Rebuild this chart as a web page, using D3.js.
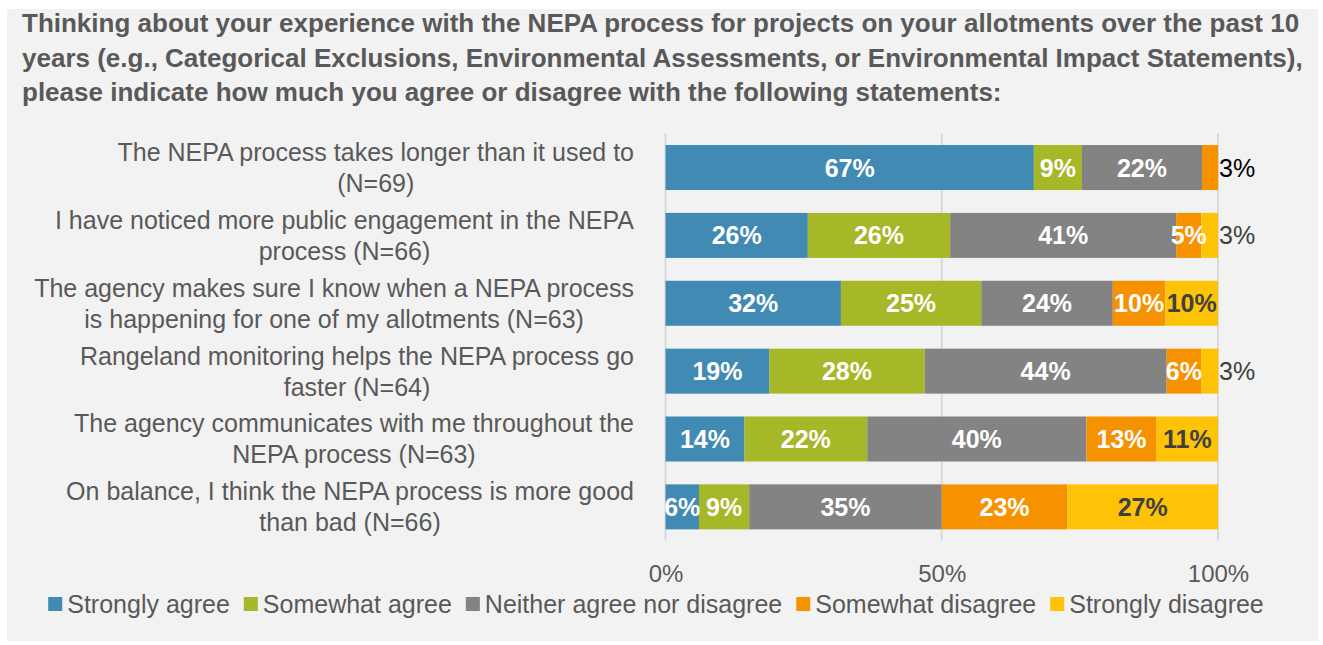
<!DOCTYPE html>
<html>
<head>
<meta charset="utf-8">
<script src="https://cdn.jsdelivr.net/npm/d3@7"></script>
<style>
  html, body { margin: 0; padding: 0; background: #ffffff; }
  svg { display: block; font-family: "Liberation Sans", Arial, sans-serif; }
</style>
</head>
<body>
<div id="chart"></div>
<script>
// chart data
const titleLines = [
  'Thinking about your experience with the NEPA process for projects on your allotments over the past 10',
  'years (e.g., Categorical Exclusions, Environmental Assessments, or Environmental Impact Statements),',
  'please indicate how much you agree or disagree with the following statements:'
];
const categories = [
  ['The NEPA process takes longer than it used to', '(N=69)'],
  ['I have noticed more public engagement in the NEPA', 'process (N=66)'],
  ['The agency makes sure I know when a NEPA process', 'is happening for one of my allotments (N=63)'],
  ['Rangeland monitoring helps the NEPA process go', 'faster (N=64)'],
  ['The agency communicates with me throughout the', 'NEPA process (N=63)'],
  ['On balance, I think the NEPA process is more good', 'than bad (N=66)']
];
const seriesNames = ['Strongly agree', 'Somewhat agree', 'Neither agree nor disagree', 'Somewhat disagree', 'Strongly disagree'];
const seriesColors = ['#418AB3', '#A6B727', '#838383', '#F69200', '#FEC306'];
// percentages per statement, in category order
const stronglyAgree    = [66.67, 25.76, 31.75, 18.8, 14.29, 6.06];
const somewhatAgree    = [8.7, 25.76, 25.4, 28.1, 22.22, 9.09];
const neither          = [21.74, 40.91, 23.81, 43.8, 39.68, 34.85];
const somewhatDisagree = [2.9, 4.55, 9.52, 6.25, 12.7, 22.73];
const stronglyDisagree = [0, 3.03, 9.52, 3.1, 11.11, 27.27];
const xTicks = [0, 0.5, 1];

const W = 1323, H = 645;
const margin = { top: 133.6, right: 105, bottom: 104, left: 665.5 };
const width = 1218 - margin.left;
const height = 540.8 - margin.top;

const svg = d3.select('#chart').append('svg')
  .attr('width', W)
  .attr('height', H);

// panel background
svg.append('rect')
  .attr('x', 7).attr('y', 9)
  .attr('width', 1311).attr('height', 632)
  .attr('fill', '#f2f2f2');

// title
svg.append('g').selectAll('text')
  .data(titleLines)
  .join('text')
  .attr('x', 22)
  .attr('y', (d, i) => 32 + i * 34.5)
  .attr('fill', '#595959')
  .attr('font-size', 26)
  .attr('font-weight', 'bold')
  .text(d => d);

const g = svg.append('g').attr('transform', `translate(${margin.left},${margin.top})`);

const x = d3.scaleLinear().domain([0, 1]).range([0, width]);
const y = d3.scaleBand()
  .domain(d3.range(categories.length))
  .range([0, height])
  .paddingInner(0.337)
  .paddingOuter(0.1685);

// gridlines
g.append('g').selectAll('line')
  .data(xTicks)
  .join('line')
  .attr('x1', d => x(d)).attr('x2', d => x(d))
  .attr('y1', 0).attr('y2', height)
  .attr('stroke', '#d9d9d9')
  .attr('stroke-width', 2);

// x axis labels
const xAxis = d3.axisBottom(x).tickValues(xTicks).tickFormat(d3.format('.0%')).tickSize(0).tickPadding(24);
const ax = g.append('g').attr('transform', `translate(0,${height})`).call(xAxis);
ax.select('.domain').remove();
ax.selectAll('text').attr('font-size', 24).attr('fill', '#595959').attr('font-family', null);

// stack the series
const seriesValues = [stronglyAgree, somewhatAgree, neither, somewhatDisagree, stronglyDisagree];
const rows = categories.map((c, i) => {
  const r = { idx: i };
  seriesValues.forEach((s, k) => { r[k] = s[i] / 100; });
  return r;
});
const stack = d3.stack().keys(d3.range(seriesNames.length));
const stacked = stack(rows);

const layers = g.append('g').selectAll('g')
  .data(stacked)
  .join('g')
  .attr('fill', (d, k) => seriesColors[k]);

layers.selectAll('rect')
  .data(d => d)
  .join('rect')
  .attr('x', d => x(d[0]))
  .attr('y', d => y(d.data.idx))
  .attr('width', d => x(d[1]) - x(d[0]))
  .attr('height', y.bandwidth());

// value labels
const fmt = v => Math.round(v * 100) + '%';
stacked.forEach((layer, k) => {
  layer.forEach(d => {
    const v = d[1] - d[0];
    if (v <= 0) return;
    const outside = v < 0.04;
    g.append('text')
      .attr('x', outside ? width + 1 : x((d[0] + d[1]) / 2))
      .attr('y', y(d.data.idx) + y.bandwidth() / 2 + 9)
      .attr('text-anchor', outside ? 'start' : 'middle')
      .attr('font-size', 25)
      .attr('font-weight', outside ? 'normal' : 'bold')
      .attr('fill', outside ? (k === 4 ? '#404040' : '#000000') : (k === 4 ? '#404040' : '#ffffff'))
      .text(fmt(v));
  });
});

// category labels, two centred lines, block right-aligned
const labelRight = 634 - margin.left;
categories.forEach((lines, i) => {
  const t = g.append('text')
    .attr('font-size', 25)
    .attr('fill', '#595959')
    .attr('text-anchor', 'middle');
  const cy = y(i) + y.bandwidth() / 2;
  const spans = lines.map((l, j) => t.append('tspan').attr('y', cy - 6.5 + j * 31).text(l));
  const maxW = d3.max(spans, s => s.node().getComputedTextLength());
  spans.forEach(s => s.attr('x', labelRight - maxW / 2));
});

// legend
const legend = svg.append('g').attr('font-size', 25).attr('fill', '#595959');
let lx = 0;
seriesNames.forEach((name, k) => {
  const it = legend.append('g').attr('transform', `translate(${lx},0)`);
  it.append('rect').attr('x', 0).attr('y', 597).attr('width', 14).attr('height', 14).attr('fill', seriesColors[k]);
  const tx = it.append('text').attr('x', 19).attr('y', 613).text(name);
  lx += 19 + tx.node().getComputedTextLength() + 14;
});
const legendW = lx - 14;
legend.attr('transform', `translate(${656 - legendW / 2},0)`);
</script>
</body>
</html>
